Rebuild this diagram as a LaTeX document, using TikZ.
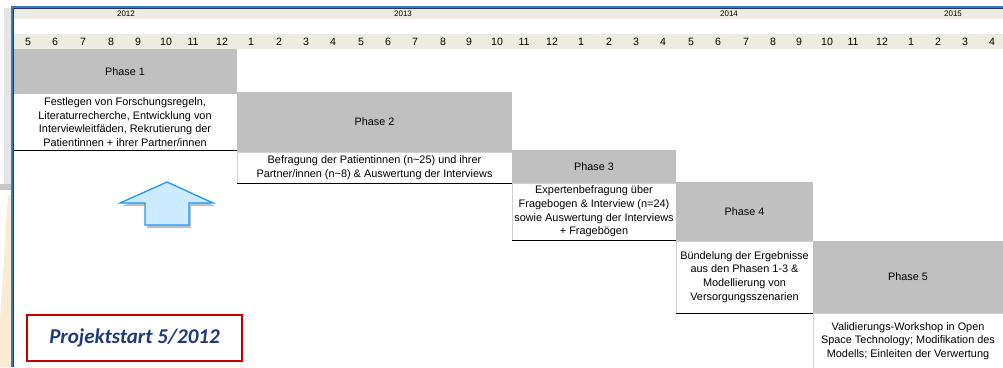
\documentclass[tikz,border=0pt]{standalone}
\usepackage{fontspec}
\setmainfont{Liberation Sans}
\newfontfamily\carlito{Carlito}
\usetikzlibrary{shadows}
\definecolor{hdr}{HTML}{EEECE1}
\definecolor{phgray}{HTML}{C0C0C0}
\definecolor{frameblue}{HTML}{1F3B64}
\definecolor{framelight}{HTML}{3A78C0}
\definecolor{arrowfill}{HTML}{CDEBFF}
\definecolor{arrowline}{HTML}{2196F3}
\definecolor{startred}{HTML}{C00000}
\definecolor{starttext}{HTML}{1F3A7A}
\definecolor{boxline}{HTML}{D0D0D0}
\definecolor{beige}{HTML}{FBEBD2}
\begin{document}
\begin{tikzpicture}[x=1pt,y=-1pt,
  month/.style={font=\fontsize{10.6}{12}\selectfont, inner sep=0pt},
  yearlbl/.style={font=\fontsize{8}{10}\selectfont, inner sep=0pt},
  phasebox/.style={fill=phgray, inner sep=0pt, outer sep=0pt, anchor=north west,
    font=\fontsize{10.8}{12}\selectfont},
  descbox/.style={fill=white, draw=boxline, line width=0.6pt, inner sep=0pt, outer sep=0pt,
    anchor=north west, align=center, font=\fontsize{10.9}{13.7}\selectfont},
  baseline/.style={draw=black, line width=1pt},
]
\useasboundingbox (0,0) rectangle (1003,367);
\fill[white] (0,0) rectangle (1003,367);
% left shadow / background remnants
\fill[black!10] (4,8) rectangle (11,185);
\fill[black!22] (0,184) rectangle (11,190);
\fill[beige] (8,195) -- (11,195) -- (11,367) -- (0,367) -- (0,320) -- cycle;
% header bands
\fill[hdr] (13,8) rectangle (1003,19);
\fill[hdr] (13,34) rectangle (1003,49);
\node[yearlbl] (y2012) at (126,14) {2012};
\node[yearlbl] (y2013) at (403,14) {2013};
\node[yearlbl] (y2014) at (729,14) {2014};
\node[yearlbl] (y2015) at (953,14) {2015};
\foreach \xx/\m [count=\i] in {28/5,55/6,83/7,111/8,138/9,166/10,193/11,222/12,251/1,279/2,306/3,333/4,361/5,388/6,415/7,443/8,469/9,497/10,524/11,552/12,581/1,609/2,636/3,663/4,691/5,718/6,746/7,773/8,799/9,827/10,853/11,882/12,911/1,938/2,965/3,992/4}
  \node[month] (m\i) at (\xx,42) {\m};
% phases
\node[phasebox, minimum width=224pt, minimum height=45pt] (p1) at (13,49) {Phase 1};
\node[descbox, minimum width=224pt, minimum height=56pt, draw=none] (d1) at (13,94)
  {Festlegen von Forschungsregeln,\\Literaturrecherche, Entwicklung von\\Interviewleitfäden, Rekrutierung der\\Patientinnen + ihrer Partner/innen};
\node[phasebox, minimum width=275pt, minimum height=60pt] (p2) at (237,92) {Phase 2};
\node[descbox, minimum width=275pt, minimum height=31pt] (d2) at (237,152)
  {Befragung der Patientinnen (n\char`\~25) und ihrer\\Partner/innen (n\char`\~8) \& Auswertung der Interviews};
\node[phasebox, minimum width=164pt, minimum height=33pt] (p3) at (512,150) {Phase 3};
\node[descbox, minimum width=164pt, minimum height=57pt] (d3) at (512,183)
  {Expertenbefragung über\\Fragebogen \& Interview (n=24)\\sowie Auswertung der Interviews\\+ Fragebögen};
\node[phasebox, minimum width=137pt, minimum height=59pt] (p4) at (676,182) {Phase 4};
\node[descbox, minimum width=137pt, minimum height=72pt] (d4) at (676,241)
  {Bündelung der Ergebnisse\\aus den Phasen 1-3 \&\\Modellierung von\\Versorgungsszenarien};
\node[phasebox, minimum width=190pt, minimum height=72pt] (p5) at (813,241) {Phase 5};
\node[descbox, minimum width=190pt, minimum height=56pt] (d5) at (813,313)
  {Validierungs-Workshop in Open\\Space Technology; Modifikation des\\Modells; Einleiten der Verwertung};
\draw[baseline] (d1.south west) -- (d1.south east);
\draw[baseline] (d2.south west) -- (d2.south east);
\draw[baseline] (d3.south west) -- (d3.south east);
\draw[baseline] (d4.south west) -- (d4.south east);
% frame
\draw[framelight, line width=2pt] (12,367) -- (12,7) -- (1003,7);
\draw[frameblue, line width=1pt] (13.2,367) -- (13.2,8.2) -- (1003,8.2);
% arrow
\draw[arrowline, fill=arrowfill, line width=1.3pt, line join=miter,
  drop shadow={shadow xshift=2pt, shadow yshift=-3pt, opacity=0.25, fill=black}]
  (167,182) -- (213,203) -- (189,203) -- (189,225) -- (145,225) -- (145,203) -- (120,203) -- cycle;
% Projektstart
\node[draw=startred, line width=1.2pt, minimum width=215pt, minimum height=46pt, inner sep=0pt,
  text=starttext, font=\carlito\bfseries\itshape\fontsize{21}{24}\selectfont] (start) at (134.5,338) {Projektstart 5/2012};
\end{tikzpicture}
\end{document}
